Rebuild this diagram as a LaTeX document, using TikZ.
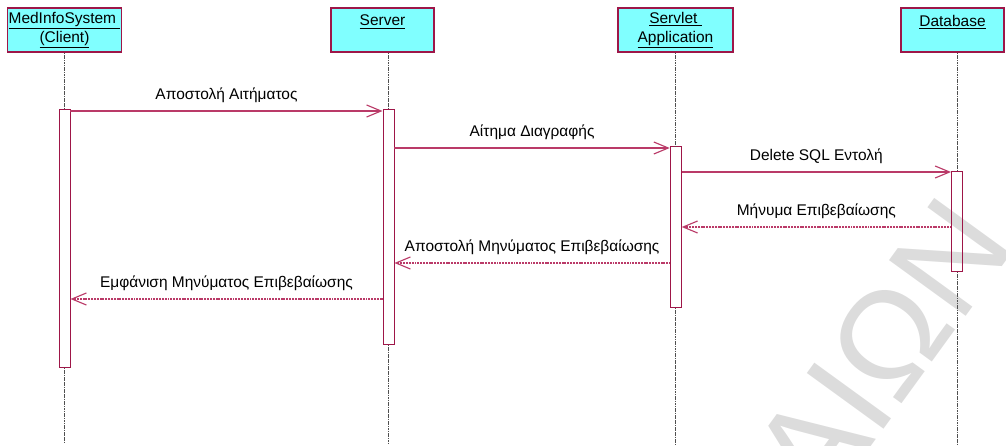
\documentclass[tikz,border=0pt]{standalone}
\usepackage{fontspec}
\setmainfont{Liberation Sans}
\usepackage{tikz}
\usetikzlibrary{arrows.meta}
\usetikzlibrary{positioning}
\usepackage{color}
\definecolor{aqua}{RGB}{128, 255, 255}
\definecolor{crimson}{RGB}{158, 22, 72}
\definecolor{rosewood}{RGB}{186, 58, 104}
\definecolor{ashgray}{RGB}{220, 220, 220}
\definecolor{lifegray}{RGB}{80, 80, 80}

\tikzset{
    actor/.style     ={draw=crimson, line width=0.9pt, fill=aqua, minimum height=1.1cm,
                       inner sep=1pt, align=center, font=\fontsize{11}{13.5}\selectfont},
    activation/.style={draw=crimson, line width=0.7pt, minimum width=0.275cm, inner sep=0pt},
    lifeline/.style  ={lifegray, line width=0.55pt, dash pattern=on 1.2pt off 0.5pt},
    call/.style      ={rosewood, line width=0.8pt, -{Straight Barb[length=0.36cm, width=0.3cm]}},
    reply/.style     ={call, dash pattern=on 0.75pt off 0.35pt},
    msglabel/.style  ={text=black, font=\fontsize{11}{13}\selectfont, anchor=base, yshift=0.28cm},
    stamp/.style     ={ashgray, font=\fontsize{98}{98}\selectfont, inner sep=0pt, anchor=base west}
}

\begin{document}
\begin{tikzpicture}[x=0.025cm, y=-0.025cm]
            \useasboundingbox (0,0) rectangle (1006,446);
            \begin{scope}
                \clip (0,0) rectangle (1006,446);
                \node[stamp, rotate=54] (stamp) at (822,514) {ΑΙΩΝ};
            \end{scope}

            \node[actor, minimum width=2.825cm] (client)  at ( 64.5,30) {\underline{MedInfoSystem\ }\\\underline{(Client)}};
            \node[actor, minimum width=2.575cm] (server)  at (382.5,30) {\underline{Server}\\\mbox{}};
            \node[actor, minimum width=2.875cm] (servlet) at (675.5,30) {\underline{Servlet\ }\\\underline{Application}};
            \node[actor, minimum width=2.575cm] (db)      at (952.5,30) {\underline{Database}\\\mbox{}};

            \coordinate (bottom) at (0,444);

            \node[activation, minimum height=6.425cm] (cact)  at ( 64.5,238.5) {};
            \node[activation, minimum height=5.850cm] (sact)  at (388.5,227.0) {};
            \node[activation, minimum height=4.000cm] (apact) at (675.7,227.0) {};
            \node[activation, minimum height=2.475cm] (dbact) at (957.0,221.5) {};

            \draw[lifeline] (cact  |- client.south)  -- (cact.north);
            \draw[lifeline] (sact  |- server.south)  -- (sact.north);
            \draw[lifeline] (apact |- servlet.south) -- (apact.north);
            \draw[lifeline] (dbact |- db.south)      -- (dbact.north);
            \draw[lifeline] (cact.south)  -- (cact  |- bottom);
            \draw[lifeline] (sact.south)  -- (sact  |- bottom);
            \draw[lifeline] (apact.south) -- (apact |- bottom);
            \draw[lifeline] (dbact.south) -- (dbact |- bottom);

            \draw[call]  (cact.east  |- 0,111) -- node[msglabel] {Αποστολή Αιτήματος}               (sact.west  |- 0,111);
            \draw[call]  (sact.east  |- 0,148) -- node[msglabel] {Αίτημα Διαγραφής}                 (apact.west |- 0,148);
            \draw[call]  (apact.east |- 0,172) -- node[msglabel] {Delete SQL Εντολή}                (dbact.west |- 0,172);
            \draw[reply] (dbact.west |- 0,227) -- node[msglabel] {Μήνυμα Επιβεβαίωσης}              (apact.east |- 0,227);
            \draw[reply] (apact.west |- 0,263) -- node[msglabel] {Αποστολή Μηνύματος Επιβεβαίωσης}  (sact.east  |- 0,263);
            \draw[reply] (sact.west  |- 0,299) -- node[msglabel] {Εμφάνιση Μηνύματος Επιβεβαίωσης}  (cact.east  |- 0,299);
        \end{tikzpicture}
\end{document}
